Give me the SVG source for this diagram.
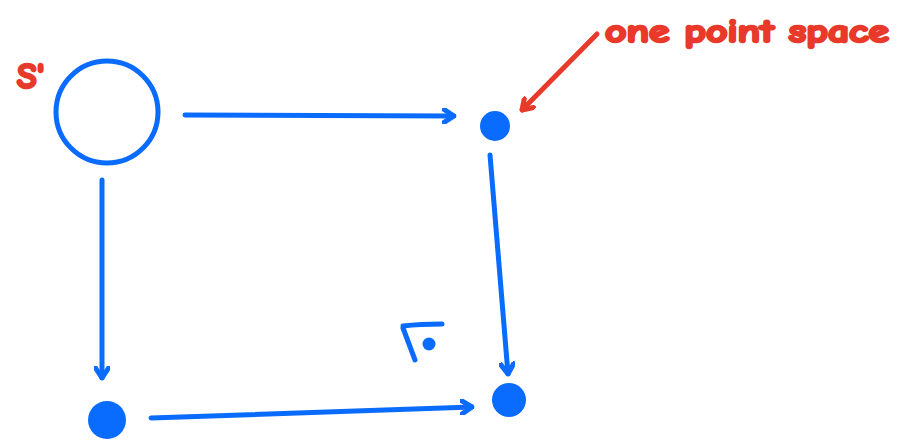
<svg xmlns="http://www.w3.org/2000/svg" width="909" height="440" viewBox="0 0 909 440">
<style>
.b{stroke:#0a6cff;fill:none;stroke-width:5;stroke-linecap:round;stroke-linejoin:round}
.r{stroke:#e8392a;fill:none;stroke-width:5;stroke-linecap:round;stroke-linejoin:round}
.dot{fill:#0a6cff}
.lbl{fill:#e8392a;stroke:#e8392a;stroke-width:2.5;stroke-linejoin:round;font-family:"Comic Neue","Liberation Sans",sans-serif;font-weight:bold}
</style>
<defs>
<marker id="ab" viewBox="-12 -8 14 16" refX="0" refY="0" markerWidth="14" markerHeight="16" markerUnits="userSpaceOnUse" orient="auto">
<polyline points="-10,-6.5 0,0 -10,6.5" fill="none" stroke="#0a6cff" stroke-width="5" stroke-linecap="round" stroke-linejoin="round"/>
</marker>
<marker id="ar" viewBox="-12 -8 14 16" refX="0" refY="0" markerWidth="14" markerHeight="16" markerUnits="userSpaceOnUse" orient="auto">
<polyline points="-10,-6.5 0,0 -10,6.5" fill="none" stroke="#e8392a" stroke-width="5" stroke-linecap="round" stroke-linejoin="round"/>
</marker>
</defs>
<g id="node-s">
<circle cx="107" cy="112" r="51" class="b"/>
<text x="17" y="88" class="lbl" font-size="36">S'</text>
</g>
<g id="node-tr"><circle cx="495" cy="126" r="15" class="dot"/></g>
<g id="node-br">
<circle cx="509" cy="400" r="17" class="dot"/>
<path d="M403 326 Q420 324 442 324 M403 328 L415 360" class="b" stroke-width="6"/>
<circle cx="429" cy="344" r="6.5" class="dot"/>
</g>
<g id="node-bl"><circle cx="107" cy="420" r="19" class="dot"/></g>
<g id="note">
<text x="605" y="42" class="lbl" font-size="33" textLength="284" lengthAdjust="spacingAndGlyphs">one point space</text>
</g>
<g id="connectors">
<line x1="185" y1="115" x2="454" y2="116" class="b" marker-end="url(#ab)"/>
<line x1="490" y1="155" x2="508" y2="374" class="b" marker-end="url(#ab)"/>
<line x1="102" y1="180" x2="102" y2="378" class="b" marker-end="url(#ab)"/>
<line x1="151" y1="418" x2="472" y2="407" class="b" marker-end="url(#ab)"/>
<line x1="597" y1="34" x2="522" y2="110" class="r" marker-end="url(#ar)"/>
</g>
</svg>
